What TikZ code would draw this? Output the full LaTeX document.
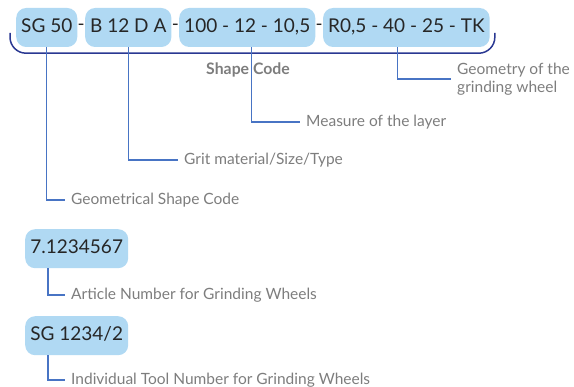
\documentclass[tikz,border=0pt]{standalone}
\usepackage{fontspec}
\setmainfont{Lato}
\usetikzlibrary{positioning}
\definecolor{pillblue}{RGB}{176,217,243}
\definecolor{linkblue}{RGB}{72,116,196}
\definecolor{navy}{RGB}{42,56,146}
\definecolor{labelgray}{RGB}{125,125,125}

\begin{document}
\begin{tikzpicture}
  [x=1pt,y=-1pt,
   pill/.style={rounded corners=10pt,fill=pillblue,minimum height=39pt,inner xsep=5pt,
     text height=13.5pt,text depth=4pt,text=black!85,font=\fontsize{19}{19}\selectfont},
   sepN/.style={inner sep=0pt,text=black!85,font=\fontsize{19}{19}\selectfont},
   note/.style={anchor=west,inner xsep=6pt,text=labelgray,align=left,
     font=\fontsize{15.5}{18}\selectfont},
   link/.style={draw=linkblue,line width=1.4pt},
   brace/.style={draw=navy,line width=1.5pt,rounded corners=16pt}]

  \useasboundingbox (0,0) rectangle (574,387);

  % the code and its parts
  \node[pill,anchor=west]   (sg)   at (16,27.5) {SG 50};
  \node[sepN,right=0pt of sg]    (d1)   {-};
  \node[pill,right=0pt of d1]    (grit) {B 12 D A};
  \node[sepN,right=0pt of grit]  (d2)   {-};
  \node[pill,right=0pt of d2]    (dims) {100 - 12 - 10,5};
  \node[sepN,right=0pt of dims]  (d3)   {-};
  \node[pill,right=0pt of d3]    (geo)  {R0,5 - 40 - 25 - TK};

  \draw[brace] ([xshift=-6pt,yshift=-5.5pt]sg.west) |- ([xshift=5pt,yshift=-6pt]geo.south east)
    -- ([xshift=5pt,yshift=-5.5pt]geo.east);
  \node[text=labelgray,font=\bfseries\fontsize{15.8}{16}\selectfont] (shape) at (248,70) {Shape Code};

  % notes
  \node[note] (nShape) at (65,200)  {Geometrical Shape Code};
  \node[note] (nGrit)  at (178,160) {Grit material/Size/Type};
  \node[note] (nLayer) at (300,122) {Measure of the layer};
  \node[note] (nGeo)   at (451,79)  {Geometry of the\\grinding wheel};

  \draw[link] (sg.south) |- (nShape.west);
  \draw[link] (grit.south) |- (nGrit.west);
  \draw[link] ([xshift=4pt]dims.south) |- (nLayer.west);
  \draw[link] ([xshift=-9pt]geo.south) |- (nGeo.west);

  % article and tool numbers
  \node[pill,anchor=north west,minimum width=103pt] (art)  at (25,229) {7.1234567};
  \node[pill,anchor=north west,minimum width=103pt] (tool) at (25,316) {SG 1234/2};
  \node[note] (nArt)  at (65,295) {Article Number for Grinding Wheels};
  \node[note] (nTool) at (65,380) {Individual Tool Number for Grinding Wheels};

  \draw[link] ([xshift=23pt]art.south west) |- (nArt.west);
  \draw[link] ([xshift=23pt]tool.south west) |- (nTool.west);

\end{tikzpicture}
\end{document}
